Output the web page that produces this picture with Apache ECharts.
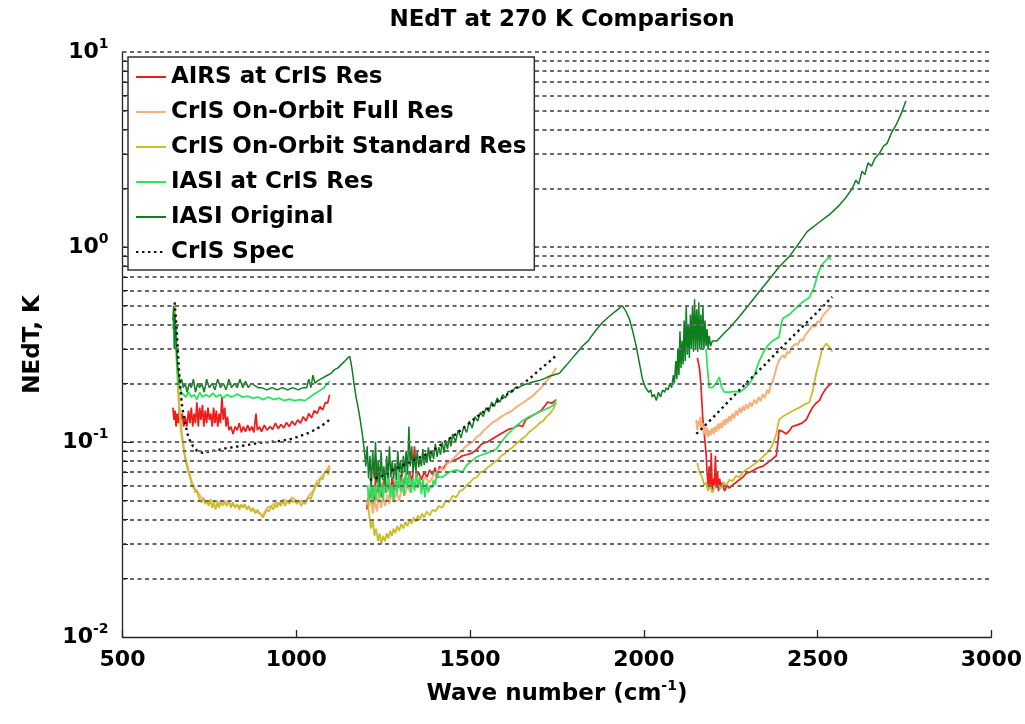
<!DOCTYPE html>
<html>
<head>
<meta charset="utf-8">
<script src="https://cdn.jsdelivr.net/npm/echarts@6/dist/echarts.min.js"></script>
<style>html,body{margin:0;padding:0;background:#fff}#c{width:1025px;height:724px}</style>
</head>
<body>
<div id="c"></div>
<script>
// ---------- data (wave number cm^-1, NEdT K) ----------
const seriesNames = ['AIRS at CrIS Res','CrIS On-Orbit Full Res','CrIS On-Orbit Standard Res','IASI at CrIS Res','IASI Original','CrIS Spec'];
const xTicks = [500,1000,1500,2000,2500,3000];
const yDecades = [0.01,0.1,1,10];
const gridValues = [0.02,0.03,0.04,0.05,0.06,0.07,0.08,0.09,0.1,0.2,0.3,0.4,0.5,0.6,0.7,0.8,0.9,1,2,3,4,5,6,7,8,9,10];

const airsB1 = [[645,0.15],[648,0.13],[651,0.145],[654,0.12],[657,0.14],[660,0.125],[664,0.15],[668,0.13],[672,0.14],[676,0.12],[680,0.135],[685,0.12],[690,0.145],[694,0.125],[698,0.15],[702,0.12],[706,0.14],[710,0.125],[714,0.16],[718,0.12],[722,0.15],[726,0.13],[730,0.155],[734,0.12],[738,0.145],[742,0.125],[746,0.15],[750,0.13],[754,0.14],[758,0.12],[762,0.15],[766,0.125],[770,0.145],[774,0.12],[778,0.14],[782,0.125],[786,0.17],[790,0.13],[794,0.15],[798,0.12],[802,0.135],[806,0.115],[812,0.12],[818,0.11],[824,0.12],[830,0.115],[836,0.125],[842,0.112],[848,0.12],[854,0.113],[860,0.122],[866,0.114],[872,0.12],[878,0.112],[884,0.14],[888,0.115],[894,0.12],[900,0.113],[908,0.122],[916,0.115],[924,0.12],[932,0.116],[940,0.125],[948,0.117],[956,0.123],[964,0.118],[972,0.126],[980,0.12],[988,0.128],[996,0.122],[1004,0.13],[1012,0.125],[1020,0.135],[1028,0.128],[1036,0.14],[1044,0.133],[1052,0.145],[1060,0.14],[1068,0.152],[1076,0.146],[1084,0.16],[1090,0.158],[1096,0.175]];
const airsB2 = [[1203,0.045],[1208,0.055],[1212,0.048],[1218,0.06],[1224,0.05],[1231,0.08],[1235,0.055],[1240,0.06],[1246,0.052],[1252,0.065],[1258,0.055],[1264,0.062],[1270,0.054],[1276,0.066],[1282,0.056],[1288,0.063],[1294,0.058],[1300,0.068],[1306,0.058],[1312,0.066],[1318,0.06],[1326,0.07],[1334,0.062],[1340,0.095],[1346,0.066],[1352,0.07],[1360,0.064],[1368,0.07],[1376,0.066],[1384,0.072],[1392,0.068],[1400,0.074],[1404,0.065],[1412,0.075],[1420,0.072],[1433,0.078],[1450,0.08],[1465,0.082],[1478,0.085],[1490,0.086],[1507,0.088],[1520,0.092],[1535,0.098],[1550,0.1],[1565,0.104],[1580,0.108],[1595,0.112],[1610,0.116],[1625,0.118],[1640,0.122],[1651,0.12],[1660,0.13],[1675,0.135],[1690,0.14],[1705,0.145],[1723,0.16],[1735,0.158],[1748,0.165]];
const airsB3 = [[2154,0.27],[2160,0.24],[2164,0.2],[2167,0.16],[2170,0.13],[2173,0.115],[2176,0.1],[2179,0.088],[2182,0.07],[2185,0.06],[2188,0.075],[2191,0.058],[2194,0.088],[2197,0.055],[2200,0.065],[2203,0.06],[2206,0.085],[2209,0.058],[2212,0.07],[2215,0.056],[2218,0.065],[2222,0.058],[2226,0.062],[2232,0.056],[2240,0.06],[2246,0.058],[2255,0.06],[2265,0.062],[2275,0.064],[2285,0.066],[2294,0.069],[2305,0.07],[2318,0.072],[2330,0.074],[2342,0.075],[2355,0.078],[2370,0.082],[2381,0.085],[2386,0.1],[2389,0.115],[2400,0.113],[2410,0.11],[2420,0.115],[2427,0.12],[2440,0.122],[2455,0.125],[2467,0.13],[2476,0.14],[2485,0.15],[2495,0.158],[2505,0.163],[2513,0.175],[2522,0.186],[2532,0.195],[2542,0.2]];

const fullB1 = [[650,0.48],[656,0.27],[664,0.15],[671,0.11],[680,0.085],[690,0.072],[700,0.062],[710,0.057],[720,0.054],[730,0.051],[740,0.05],[750,0.049],[760,0.048],[770,0.05],[780,0.048],[790,0.05],[800,0.049],[812,0.048],[824,0.047],[836,0.047],[848,0.047],[860,0.046],[872,0.045],[884,0.044],[896,0.043],[904,0.042],[916,0.046],[928,0.047],[940,0.049],[952,0.048],[964,0.051],[976,0.049],[988,0.052],[1000,0.05],[1012,0.05],[1024,0.049],[1036,0.053],[1048,0.056],[1060,0.063],[1072,0.066],[1084,0.07],[1096,0.076]];
const fullB2 = [[1205,0.055],[1210,0.047],[1215,0.052],[1220,0.043],[1226,0.05],[1232,0.044],[1238,0.055],[1244,0.046],[1250,0.052],[1256,0.047],[1262,0.054],[1268,0.048],[1274,0.055],[1280,0.049],[1289,0.056],[1296,0.05],[1304,0.058],[1312,0.053],[1320,0.06],[1328,0.055],[1336,0.062],[1344,0.058],[1352,0.064],[1360,0.06],[1370,0.066],[1384,0.062],[1395,0.068],[1405,0.07],[1415,0.073],[1425,0.072],[1433,0.077],[1445,0.08],[1455,0.083],[1465,0.087],[1475,0.09],[1485,0.094],[1495,0.097],[1507,0.1],[1518,0.106],[1527,0.108],[1540,0.115],[1552,0.12],[1565,0.126],[1578,0.13],[1590,0.135],[1605,0.14],[1622,0.145],[1635,0.152],[1650,0.158],[1665,0.165],[1680,0.172],[1691,0.18],[1705,0.19],[1720,0.205],[1735,0.22],[1748,0.24]];
const fullB3 = [[2151,0.13],[2154,0.115],[2157,0.128],[2160,0.12],[2163,0.135],[2166,0.115],[2169,0.125],[2172,0.11],[2175,0.12],[2178,0.108],[2182,0.118],[2185,0.106],[2188,0.115],[2192,0.108],[2197,0.118],[2201,0.11],[2205,0.12],[2209,0.113],[2213,0.124],[2217,0.116],[2221,0.126],[2225,0.118],[2230,0.13],[2234,0.122],[2238,0.132],[2242,0.125],[2246,0.136],[2250,0.128],[2255,0.14],[2260,0.132],[2265,0.145],[2270,0.137],[2275,0.15],[2280,0.141],[2285,0.153],[2290,0.145],[2294,0.156],[2300,0.148],[2305,0.16],[2311,0.152],[2318,0.165],[2324,0.157],[2330,0.17],[2336,0.162],[2342,0.176],[2348,0.168],[2355,0.185],[2360,0.178],[2365,0.196],[2371,0.205],[2376,0.22],[2380,0.235],[2385,0.25],[2389,0.262],[2394,0.27],[2400,0.278],[2406,0.27],[2412,0.29],[2418,0.285],[2425,0.305],[2430,0.3],[2436,0.318],[2443,0.315],[2450,0.335],[2457,0.33],[2465,0.355],[2470,0.35],[2476,0.375],[2481,0.37],[2485,0.395],[2492,0.39],[2500,0.415],[2506,0.41],[2513,0.44],[2518,0.435],[2522,0.46],[2527,0.455],[2532,0.48],[2537,0.47],[2542,0.5]];

const stdB1 = [[650,0.5],[653,0.35],[656,0.25],[660,0.18],[664,0.14],[667,0.12],[671,0.105],[676,0.092],[680,0.082],[685,0.075],[690,0.07],[694,0.066],[700,0.06],[705,0.058],[710,0.055],[714,0.057],[719,0.052],[723,0.053],[728,0.049],[733,0.052],[738,0.048],[743,0.05],[748,0.047],[753,0.051],[758,0.046],[763,0.049],[768,0.045],[773,0.049],[778,0.046],[783,0.05],[788,0.047],[793,0.049],[800,0.047],[806,0.05],[812,0.046],[818,0.049],[824,0.046],[830,0.048],[836,0.045],[842,0.048],[846,0.046],[852,0.048],[858,0.045],[864,0.047],[870,0.044],[876,0.046],[882,0.043],[888,0.045],[895,0.043],[900,0.042],[904,0.041],[910,0.043],[916,0.045],[922,0.044],[928,0.047],[934,0.045],[940,0.048],[944,0.046],[950,0.049],[956,0.047],[962,0.05],[968,0.047],[974,0.05],[980,0.048],[986,0.051],[990,0.049],[996,0.05],[1002,0.048],[1008,0.05],[1014,0.047],[1020,0.049],[1026,0.048],[1030,0.05],[1036,0.052],[1042,0.051],[1048,0.055],[1054,0.058],[1059,0.062],[1064,0.06],[1070,0.066],[1076,0.064],[1082,0.07],[1088,0.072],[1092,0.068],[1096,0.075]];
const stdB2 = [[1205,0.05],[1210,0.042],[1215,0.036],[1220,0.04],[1225,0.033],[1230,0.036],[1235,0.031],[1240,0.034],[1245,0.03],[1250,0.033],[1255,0.031],[1260,0.034],[1265,0.032],[1270,0.035],[1275,0.033],[1280,0.036],[1285,0.034],[1290,0.037],[1296,0.035],[1302,0.038],[1308,0.036],[1314,0.039],[1320,0.037],[1326,0.04],[1332,0.038],[1338,0.041],[1344,0.039],[1350,0.042],[1356,0.04],[1362,0.043],[1368,0.041],[1375,0.044],[1384,0.042],[1392,0.045],[1400,0.044],[1410,0.047],[1420,0.046],[1430,0.05],[1440,0.049],[1450,0.053],[1460,0.052],[1470,0.056],[1480,0.057],[1490,0.06],[1500,0.062],[1510,0.065],[1520,0.066],[1530,0.07],[1540,0.071],[1550,0.074],[1560,0.076],[1570,0.079],[1580,0.081],[1590,0.085],[1600,0.087],[1610,0.091],[1620,0.093],[1630,0.097],[1640,0.1],[1650,0.104],[1660,0.107],[1671,0.113],[1680,0.116],[1690,0.12],[1700,0.125],[1710,0.128],[1720,0.135],[1730,0.14],[1740,0.148],[1748,0.16]];
const stdB3 = [[2154,0.078],[2160,0.07],[2168,0.066],[2174,0.06],[2179,0.062],[2185,0.056],[2190,0.06],[2197,0.055],[2203,0.058],[2208,0.057],[2215,0.06],[2222,0.058],[2230,0.062],[2238,0.06],[2246,0.064],[2255,0.063],[2265,0.067],[2275,0.066],[2285,0.07],[2294,0.072],[2305,0.074],[2318,0.077],[2330,0.08],[2342,0.084],[2355,0.088],[2370,0.096],[2381,0.11],[2389,0.13],[2400,0.135],[2415,0.14],[2430,0.145],[2447,0.15],[2460,0.155],[2476,0.16],[2485,0.18],[2496,0.225],[2505,0.26],[2513,0.3],[2520,0.31],[2525,0.32],[2532,0.31],[2538,0.3],[2542,0.29]];

const iasiCrisB1 = [[645,0.38],[648,0.45],[651,0.3],[654,0.4],[657,0.25],[661,0.2],[665,0.19],[670,0.18],[676,0.175],[682,0.17],[690,0.18],[698,0.17],[706,0.175],[714,0.165],[722,0.18],[730,0.17],[740,0.175],[750,0.17],[760,0.178],[770,0.17],[780,0.175],[790,0.168],[800,0.175],[815,0.17],[830,0.176],[845,0.17],[860,0.172],[875,0.168],[890,0.17],[905,0.165],[920,0.17],[935,0.165],[950,0.168],[965,0.163],[980,0.166],[995,0.163],[1010,0.165],[1025,0.163],[1040,0.17],[1050,0.175],[1060,0.18],[1070,0.185],[1080,0.19],[1090,0.2],[1096,0.205]];
const iasiCrisB2 = [[1205,0.06],[1210,0.05],[1215,0.065],[1220,0.048],[1225,0.06],[1230,0.05],[1235,0.07],[1240,0.052],[1245,0.062],[1250,0.05],[1255,0.066],[1260,0.055],[1265,0.07],[1270,0.052],[1275,0.06],[1280,0.05],[1285,0.065],[1290,0.055],[1295,0.07],[1300,0.056],[1305,0.065],[1310,0.053],[1315,0.072],[1320,0.058],[1325,0.068],[1330,0.055],[1335,0.065],[1340,0.056],[1345,0.07],[1350,0.058],[1355,0.066],[1360,0.054],[1365,0.064],[1370,0.052],[1375,0.062],[1380,0.055],[1385,0.06],[1390,0.058],[1395,0.064],[1400,0.06],[1405,0.07],[1410,0.066],[1420,0.066],[1440,0.07],[1460,0.072],[1478,0.07],[1490,0.076],[1505,0.08],[1520,0.084],[1535,0.086],[1550,0.088],[1565,0.09],[1576,0.092],[1590,0.1],[1605,0.108],[1620,0.115],[1635,0.122],[1650,0.128],[1671,0.135],[1690,0.14],[1710,0.145],[1728,0.15],[1740,0.155],[1748,0.165]];
const iasiCrisB3 = [[2179,0.3],[2183,0.24],[2188,0.19],[2197,0.19],[2208,0.2],[2217,0.215],[2224,0.19],[2232,0.18],[2246,0.18],[2260,0.182],[2275,0.18],[2290,0.188],[2305,0.2],[2318,0.22],[2332,0.26],[2345,0.29],[2355,0.31],[2370,0.33],[2389,0.345],[2395,0.4],[2400,0.43],[2418,0.45],[2435,0.48],[2455,0.52],[2476,0.55],[2490,0.62],[2500,0.72],[2510,0.8],[2520,0.84],[2528,0.87],[2533,0.9],[2538,0.86]];

const iasiOrig = [[645,0.42],[647,0.5],[649,0.3],[651,0.45],[653,0.38],[656,0.28],[659,0.24],[662,0.22],[666,0.2],[670,0.21],[675,0.19],[680,0.2],[686,0.18],[692,0.2],[698,0.19],[704,0.21],[710,0.18],[716,0.2],[722,0.19],[728,0.2],[735,0.18],[742,0.21],[750,0.19],[758,0.2],[766,0.185],[774,0.21],[782,0.19],[790,0.2],[798,0.185],[806,0.21],[814,0.19],[822,0.2],[830,0.19],[838,0.21],[846,0.19],[854,0.205],[862,0.19],[870,0.2],[880,0.195],[890,0.19],[900,0.19],[915,0.185],[930,0.19],[945,0.185],[960,0.19],[975,0.185],[990,0.19],[1005,0.185],[1020,0.19],[1030,0.19],[1036,0.21],[1042,0.19],[1048,0.22],[1054,0.2],[1060,0.205],[1070,0.21],[1080,0.215],[1090,0.22],[1100,0.225],[1110,0.235],[1120,0.24],[1130,0.25],[1140,0.26],[1148,0.27],[1154,0.275],[1160,0.24],[1166,0.2],[1172,0.17],[1178,0.15],[1184,0.13],[1190,0.11],[1196,0.09],[1200,0.075],[1204,0.095],[1208,0.065],[1212,0.085],[1216,0.06],[1220,0.09],[1224,0.065],[1228,0.1],[1232,0.062],[1236,0.08],[1240,0.06],[1244,0.09],[1248,0.064],[1252,0.075],[1256,0.06],[1260,0.085],[1264,0.065],[1268,0.095],[1272,0.066],[1276,0.08],[1280,0.065],[1284,0.078],[1288,0.064],[1292,0.09],[1296,0.07],[1300,0.08],[1304,0.066],[1308,0.085],[1312,0.07],[1316,0.09],[1320,0.068],[1324,0.12],[1328,0.075],[1332,0.095],[1336,0.07],[1340,0.085],[1344,0.072],[1348,0.09],[1352,0.074],[1356,0.082],[1360,0.075],[1364,0.092],[1368,0.076],[1372,0.088],[1376,0.078],[1380,0.094],[1385,0.08],[1390,0.09],[1395,0.082],[1400,0.098],[1405,0.084],[1410,0.094],[1415,0.086],[1420,0.1],[1425,0.088],[1430,0.102],[1435,0.092],[1440,0.105],[1445,0.095],[1450,0.11],[1458,0.1],[1466,0.115],[1474,0.105],[1482,0.12],[1490,0.112],[1498,0.128],[1506,0.118],[1514,0.135],[1522,0.128],[1530,0.142],[1538,0.135],[1546,0.15],[1554,0.143],[1562,0.16],[1570,0.152],[1578,0.168],[1586,0.16],[1594,0.175],[1602,0.168],[1610,0.182],[1620,0.18],[1630,0.19],[1640,0.19],[1650,0.195],[1660,0.198],[1670,0.2],[1680,0.203],[1690,0.205],[1700,0.207],[1715,0.212],[1730,0.218],[1745,0.222],[1757,0.225],[1775,0.245],[1795,0.27],[1810,0.29],[1823,0.31],[1840,0.33],[1850,0.35],[1865,0.38],[1881,0.41],[1900,0.44],[1920,0.47],[1938,0.5],[1948,0.47],[1958,0.43],[1968,0.37],[1978,0.31],[1988,0.25],[1996,0.21],[2005,0.19],[2014,0.18],[2020,0.185],[2024,0.17],[2030,0.175],[2036,0.163],[2042,0.18],[2048,0.17],[2054,0.185],[2060,0.18],[2064,0.19],[2070,0.185],[2075,0.2],[2080,0.19],[2085,0.22],[2088,0.2],[2092,0.26],[2095,0.21],[2098,0.3],[2101,0.22],[2104,0.37],[2107,0.24],[2110,0.33],[2113,0.25],[2116,0.42],[2119,0.26],[2122,0.5],[2125,0.28],[2128,0.4],[2131,0.27],[2134,0.45],[2137,0.3],[2140,0.5],[2143,0.29],[2146,0.54],[2149,0.3],[2152,0.48],[2155,0.29],[2158,0.52],[2161,0.3],[2164,0.45],[2167,0.3],[2170,0.5],[2173,0.3],[2176,0.42],[2179,0.31],[2182,0.38],[2185,0.3],[2188,0.35],[2192,0.31],[2197,0.33],[2210,0.33],[2230,0.36],[2250,0.39],[2275,0.44],[2300,0.5],[2332,0.59],[2360,0.68],[2389,0.79],[2420,0.9],[2447,1.05],[2470,1.2],[2500,1.32],[2533,1.46],[2560,1.62],[2582,1.8],[2600,2.0],[2610,2.2],[2618,2.1],[2628,2.45],[2636,2.35],[2645,2.7],[2655,2.6],[2665,2.85],[2677,3.0],[2690,3.3],[2700,3.4],[2714,3.9],[2725,4.2],[2740,4.8],[2754,5.6]];

const specB1 = [[650,0.52],[655,0.4],[660,0.28],[665,0.2],[672,0.15],[680,0.125],[690,0.105],[703,0.095],[715,0.09],[731,0.088],[760,0.09],[800,0.093],[850,0.096],[895,0.099],[950,0.101],[990,0.104],[1039,0.112],[1070,0.12],[1096,0.13]];
const specB2 = [[1211,0.064],[1240,0.066],[1280,0.072],[1320,0.078],[1360,0.084],[1384,0.088],[1420,0.098],[1460,0.11],[1500,0.126],[1527,0.138],[1560,0.152],[1600,0.172],[1634,0.19],[1670,0.21],[1700,0.235],[1730,0.26],[1750,0.28]];
const specB3 = [[2151,0.11],[2200,0.134],[2250,0.166],[2300,0.205],[2350,0.251],[2400,0.31],[2450,0.38],[2500,0.465],[2542,0.555]];

// ---------- styling ----------
const FONT = 'DejaVu Sans';
const colors = ['#f01c1c','#f7b07c','#cabd2c','#2fe35f','#0d7f1f','#111111'];
const bands = [
  [airsB1, airsB2, airsB3],
  [fullB1, fullB2, fullB3],
  [stdB1, stdB2, stdB3],
  [iasiCrisB1, iasiCrisB2, iasiCrisB3],
  [iasiOrig],
  [specB1, specB2, specB3]
];
const widths = [1.7, 2.0, 1.8, 1.8, 1.5, 2.4];

const series = [];
series.push({
  type: 'line', name: '_grid', data: [[xTicks[0], yDecades[0]]], symbol: 'none', silent: true, z: 0,
  lineStyle: {opacity: 0}, legendHoverLink: false,
  markLine: {
    silent: true, symbol: ['none','none'], animation: false, label: {show: false},
    lineStyle: {color: '#6a6a6a', width: 1.8, type: [4, 3.5]},
    data: gridValues.map(v => ({yAxis: v}))
  }
});
series.push({
  type: 'line', name: '_ticks', data: [[xTicks[0], yDecades[0]]], symbol: 'none', silent: true, z: 3,
  lineStyle: {opacity: 0},
  markLine: {
    silent: true, symbol: ['none','none'], animation: false, label: {show: false},
    lineStyle: {color: '#222', width: 1, type: 'solid'},
    data: gridValues.filter(v => v < 10).map(v => {
      const major = yDecades.indexOf(v) >= 0;
      return [{coord: [xTicks[0], v]}, {coord: [xTicks[0] + (major ? 28 : 16), v]}];
    })
  }
});
bands.forEach((segs, i) => {
  segs.forEach(seg => {
    series.push({
      type: 'line', name: seriesNames[i], data: seg, symbol: 'none', showSymbol: false,
      z: 2, animation: false,
      color: colors[i],
      lineStyle: {color: colors[i], width: widths[i], type: i === 5 ? [2.4, 3.6] : 'solid'}
    });
  });
});

const chart = echarts.init(document.getElementById('c'), null, {renderer: 'canvas'});
chart.setOption({
  backgroundColor: '#fff',
  animation: false,
  title: {
    text: 'NEdT at 270 K Comparison', left: 557, top: 4, textAlign: 'center',
    textStyle: {fontFamily: FONT, fontWeight: 'bold', fontSize: 23, color: '#000'}
  },
  legend: {
    data: seriesNames, orient: 'vertical', left: 128, top: 57, z: 20,
    itemWidth: 30, itemHeight: 14, itemGap: 11,
    padding: [8, 8, 6, 7],
    backgroundColor: '#ffffff', borderColor: '#333', borderWidth: 1.5,
    selectedMode: false,
    itemStyle: {opacity: 0, borderWidth: 0},
    textStyle: {fontFamily: FONT, fontWeight: 'bold', fontSize: 23, color: '#000', lineHeight: 24}
  },
  grid: {left: 122.5, right: 33, top: 52, bottom: 87, containLabel: false},
  xAxis: {
    type: 'value', min: xTicks[0], max: xTicks[xTicks.length - 1], interval: 500,
    axisLine: {show: true, onZero: false, lineStyle: {color: '#222', width: 1.3}},
    axisTick: {show: true, inside: true, length: 7, lineStyle: {color: '#222', width: 1.3}},
    axisLabel: {fontFamily: FONT, fontWeight: 'bold', fontSize: 22, color: '#000', margin: 12, formatter: v => String(v)},
    splitLine: {show: false},
    name: '{n|Wave number (cm}{s|-1}{n|)}', nameLocation: 'middle', nameGap: 42,
    nameTextStyle: {
      rich: {
        n: {fontFamily: FONT, fontWeight: 'bold', fontSize: 23, color: '#000', lineHeight: 30},
        s: {fontFamily: FONT, fontWeight: 'bold', fontSize: 14, color: '#000', lineHeight: 14, verticalAlign: 'top'}
      }
    }
  },
  yAxis: {
    type: 'log', logBase: 10, min: yDecades[0], max: yDecades[yDecades.length - 1],
    axisLine: {show: true, onZero: false, lineStyle: {color: '#222', width: 1.3}},
    axisTick: {show: false},
    splitLine: {show: false},
    axisLabel: {
      margin: 14,
      formatter: v => '{b|10}{s|' + Math.round(Math.log10(v)) + '}',
      rich: {
        b: {fontFamily: FONT, fontWeight: 'bold', fontSize: 22, color: '#000', lineHeight: 30},
        s: {fontFamily: FONT, fontWeight: 'bold', fontSize: 14, color: '#000', lineHeight: 14, verticalAlign: 'top'}
      }
    },
    name: 'NEdT, K', nameLocation: 'middle', nameGap: 78, nameRotate: 90,
    nameTextStyle: {fontFamily: FONT, fontWeight: 'bold', fontSize: 23, color: '#000'}
  },
  series: series
});
</script>
</body>
</html>
